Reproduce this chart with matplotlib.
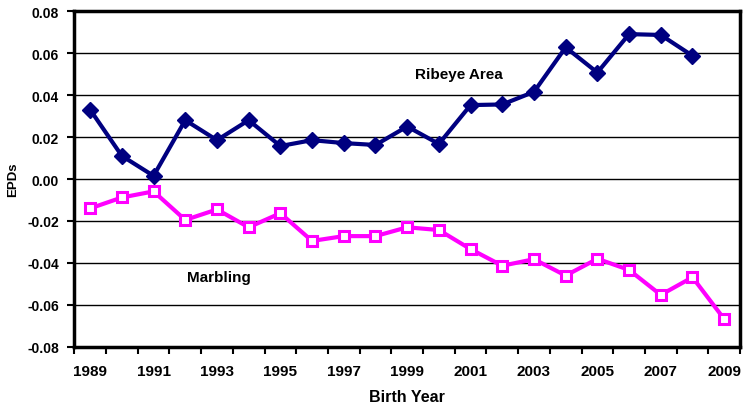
import numpy as np
import matplotlib
matplotlib.use('Agg')
import matplotlib.pyplot as plt

# data
years = list(range(1989, 2010))
ribeye_years = list(range(1989, 2009))
ribeye = [0.033, 0.011, 0.0015, 0.028, 0.0185, 0.028, 0.0157, 0.0185, 0.0171, 0.0162,
          0.025, 0.0167, 0.0352, 0.0355, 0.0415, 0.0627, 0.0507, 0.069, 0.0686, 0.0587]
marbling = [-0.014, -0.0088, -0.0059, -0.0195, -0.0145, -0.023, -0.0163, -0.0295, -0.0272, -0.0272,
            -0.023, -0.0243, -0.0334, -0.0413, -0.0382, -0.046, -0.038, -0.0433, -0.0552, -0.0468,
            -0.0667]
label_years = years[::2]

plt.rcParams['font.family'] = ['Liberation Sans', 'DejaVu Sans']

fig = plt.figure(figsize=(7.43, 4.06), dpi=100)
ax = fig.add_axes([0.1, 0.1429, 0.896, 0.8275])

ax.plot(ribeye_years, ribeye, color='#000080', lw=3, marker='D', ms=8.5, zorder=3)
ax.plot(years, marbling, color='#FF00FF', lw=3, marker='s', ms=6.5,
        mfc='white', mec='#FF00FF', mew=2.2, zorder=3)

ax.text(1999.25, 0.05, 'Ribeye Area', fontsize=11, fontweight='bold', va='center')
ax.text(1992.05, -0.0468, 'Marbling', fontsize=11, fontweight='bold', va='center')

ax.set_xlim(1988.5, 2009.5)
ax.set_ylim(-0.08, 0.08)
ax.set_yticks(np.arange(-0.08, 0.081, 0.02))
ax.set_yticklabels(['%.2f' % v for v in np.arange(-0.08, 0.081, 0.02)],
                   fontsize=10, fontweight='bold')
ax.yaxis.grid(True, color='black', lw=1)
ax.set_axisbelow(True)

# ticks between categories, labels on every other year
ax.set_xticks(np.arange(1988.5, 2010, 1))
ax.set_xticklabels([])
ax.set_xticks(label_years, minor=True)
ax.set_xticklabels([str(y) for y in label_years], minor=True, fontsize=11, fontweight='bold')
ax.tick_params(axis='x', which='major', length=5, width=1.5, direction='out')
ax.tick_params(axis='x', which='minor', length=0, pad=12)
ax.tick_params(axis='y', length=5, width=1.5, direction='out', pad=6)

for s in ax.spines.values():
    s.set_linewidth(2.5)

ax.set_xlabel('Birth Year', fontsize=11.5, fontweight='bold', labelpad=8)
ax.set_ylabel('EPDs', fontsize=9.5, fontweight='bold')
ax.yaxis.set_label_coords(-0.083, 0.5)

fig.savefig('out.png', dpi=100)
